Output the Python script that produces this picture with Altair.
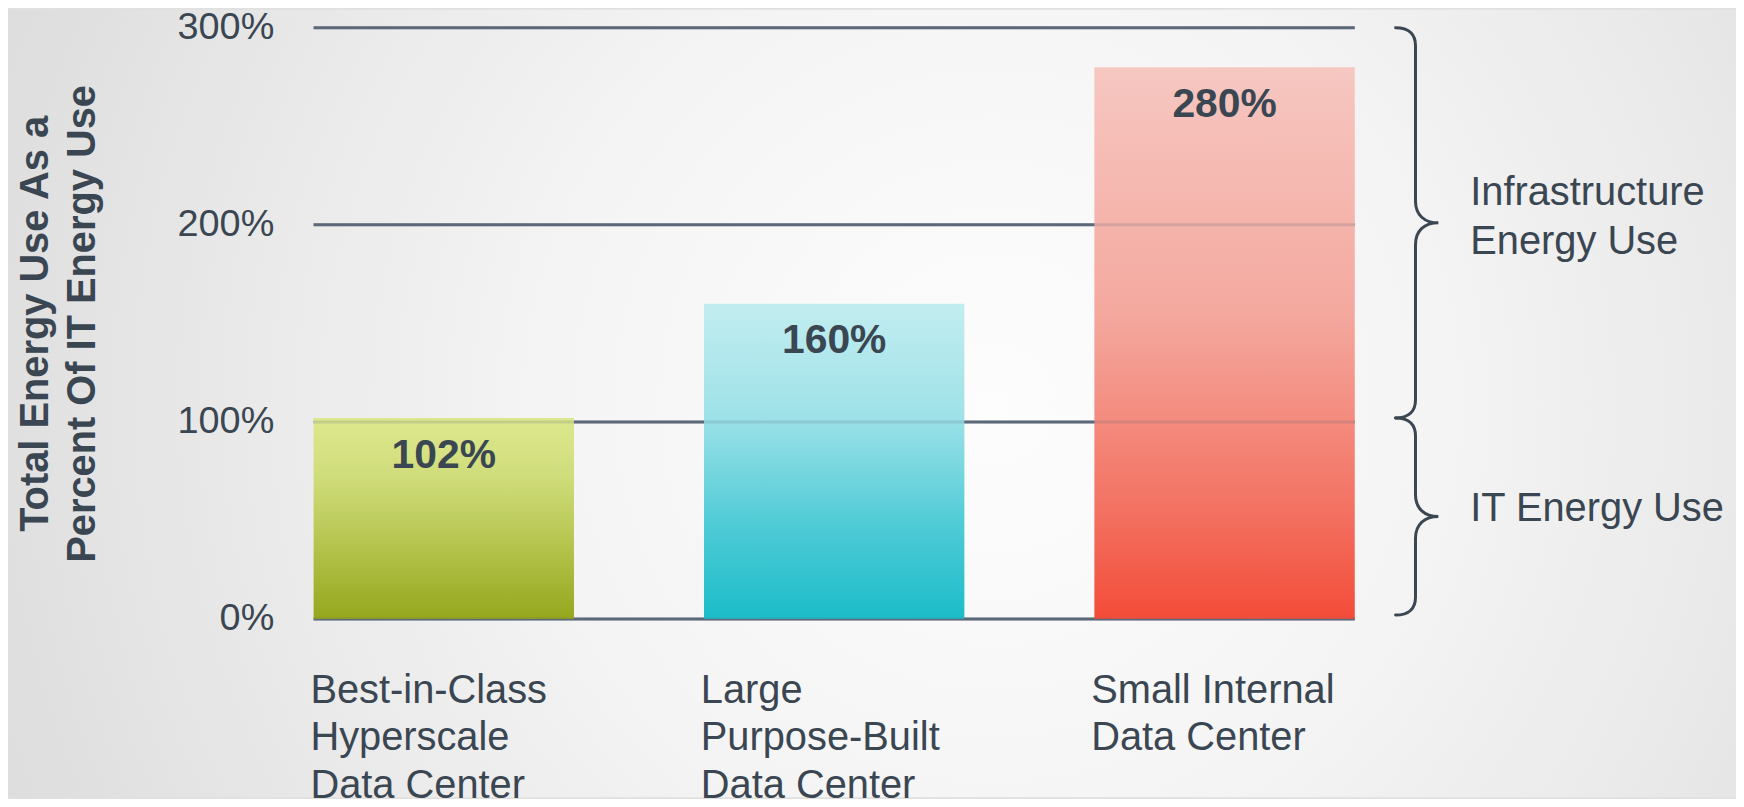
import altair as alt
import pandas as pd

# ---- data ----
categories = ["Best-in-Class\nHyperscale\nData Center",
              "Large\nPurpose-Built\nData Center",
              "Small Internal\nData Center"]
values = [102, 160, 280]
value_labels = ["102%", "160%", "280%"]
y_ticks = [0, 100, 200, 300]
brace_lo = [2, 102]
brace_hi = [102, 300]
brace_texts = ["IT Energy Use", "Infrastructure\nEnergy Use"]
brace_text_y = [56, 216]

bar_stops = [
    [("#dde88e", 0.0), ("#cfdc7a", 0.3), ("#b3c34b", 0.65), ("#95a61d", 1.0)],
    [("#c2edf0", 0.0), ("#9fe2e8", 0.35), ("#4fcbd6", 0.7), ("#1bbcc9", 1.0)],
    [("#f6c7c1", 0.0), ("#f4a89e", 0.45), ("#f37262", 0.8), ("#f34c38", 1.0)],
]

W, H = 1046, 594
PAD = {"left": 307, "top": 18, "right": 383, "bottom": 179}
TEXT = "#3a4651"
LINE = "#5a6878"
FONT = "Liberation Sans"

bars_df = pd.DataFrame({"cat": categories, "value": values, "label": value_labels})
ticks_df = pd.DataFrame({"v": y_ticks})
braces_df = pd.DataFrame({"lo": brace_lo, "hi": brace_hi})
braces_df["mid"] = (braces_df["lo"] + braces_df["hi"]) / 2
btext_df = pd.DataFrame({"t": brace_texts, "y": brace_text_y})

yscale = alt.Scale(domain=[0, 300], nice=False, zero=True)
xscale = alt.Scale(paddingInner=0.333, paddingOuter=0)

# background
bg = alt.Chart(pd.DataFrame({"a": [0]})).mark_rect(
    fill=alt.RadialGradient(
        gradient="radial",
        stops=[alt.GradientStop(offset=0, color="#fdfdfd"),
               alt.GradientStop(offset=0.3, color="#f5f5f5"),
               alt.GradientStop(offset=0.55, color="#e9e9e9"),
               alt.GradientStop(offset=0.75, color="#dedede"),
               alt.GradientStop(offset=1, color="#d3d3d3")],
        x1=0.57, y1=0.5, x2=0.57, y2=0.5, r1=0, r2=0.8),
).encode(
    x=alt.value(-PAD["left"]), x2=alt.value(W + PAD["right"]),
    y=alt.value(-PAD["top"]), y2=alt.value(H + PAD["bottom"]),
)

yaxis = alt.Axis(
    values=y_ticks, labelExpr="datum.value + '%'", grid=False, domain=False,
    ticks=False, labelPadding=40, labelFontSize=38, labelColor=TEXT,
    labelFont=FONT, zindex=1,
    title=["Total Energy Use As a", "Percent Of IT Energy Use"],
    titleFontSize=40, titleFontWeight="bold", titleColor=TEXT, titleFont=FONT,
    titlePadding=75, titleLineHeight=47,
)

xaxis = alt.Axis(
    title=None, labelExpr="split(datum.label, '\\n')", labelAlign="left",
    labelBaseline="top", labelOffset=-134, labelPadding=52, ticks=False,
    domain=False, labelFontSize=40, labelColor=TEXT, labelFont=FONT,
    labelLineHeight=47.5, labelLimit=0, labelOverlap=False, labelAngle=0, zindex=1,
)


def Y(field):
    return alt.Y(field, scale=yscale, axis=yaxis)


def X():
    return alt.X("cat:N", sort=categories, scale=xscale, axis=xaxis)


rules = alt.Chart(ticks_df).mark_rule(color=LINE, strokeWidth=3).encode(y=Y("v:Q"))
rules_top = alt.Chart(ticks_df).mark_rule(color=LINE, strokeWidth=3, opacity=0.2).encode(
    y=Y("v:Q"))

bar_layers = []
for i, cat in enumerate(categories):
    grad = alt.LinearGradient(
        gradient="linear",
        stops=[alt.GradientStop(offset=o, color=c) for c, o in bar_stops[i]],
        x1=0, y1=0, x2=0, y2=1)
    bar_layers.append(
        alt.Chart(bars_df).transform_filter(alt.datum.cat == cat)
        .mark_bar(fill=grad)
        .encode(x=X(), y=Y("value:Q"))
    )

texts = alt.Chart(bars_df).mark_text(
    dy=38, fontSize=41, fontWeight="bold", color=TEXT, font=FONT,
    baseline="middle", align="center"
).encode(x=X(), y=Y("value:Q"), text="label:N")


def brace_path(half_px, left_px, tip_px, end_curl_px, tip_curl_px):
    a = left_px / half_px
    b = tip_px / half_px
    c1 = end_curl_px / half_px
    c2 = tip_curl_px / half_px
    f = lambda v: f"{v:.4f}"
    return (f"M {f(-a)} -1 C {f(-a*0.3)} -1 0 {f(-1+c1*0.4)} 0 {f(-1+c1)} "
            f"L 0 {f(-c2)} C 0 {f(-c2*0.35)} {f(b*0.4)} 0 {f(b)} 0 "
            f"C {f(b*0.4)} 0 0 {f(c2*0.35)} 0 {f(c2)} "
            f"L 0 {f(1-c1)} C 0 {f(1-c1*0.4)} {f(-a*0.3)} 1 {f(-a)} 1")


brace_layers = []
for i in range(len(brace_lo)):
    span_px = (brace_hi[i] - brace_lo[i]) / 300 * H
    half = span_px / 2
    path = brace_path(half, 20, 23, 18, 22)
    brace_layers.append(
        alt.Chart(braces_df.iloc[[i]]).mark_point(
            shape=path, size=span_px ** 2, filled=False, stroke=TEXT,
            strokeWidth=3, opacity=1, strokeCap="round"
        ).encode(x=alt.value(1107), y=Y("mid:Q"))
    )

btexts = alt.Chart(btext_df).mark_text(
    align="left", baseline="middle", fontSize=40, color=TEXT, font=FONT,
    lineBreak="\n", lineHeight=49
).encode(x=alt.value(1162), y=Y("y:Q"), text="t:N")

chart = alt.layer(bg, rules, *bar_layers, rules_top, texts, *brace_layers, btexts).properties(
    width=W, height=H, autosize="none", padding=PAD,
).configure_view(stroke=None).configure(background="#e0e0e0")

chart.save("out.html", embed_options={"renderer": "svg", "actions": False})
